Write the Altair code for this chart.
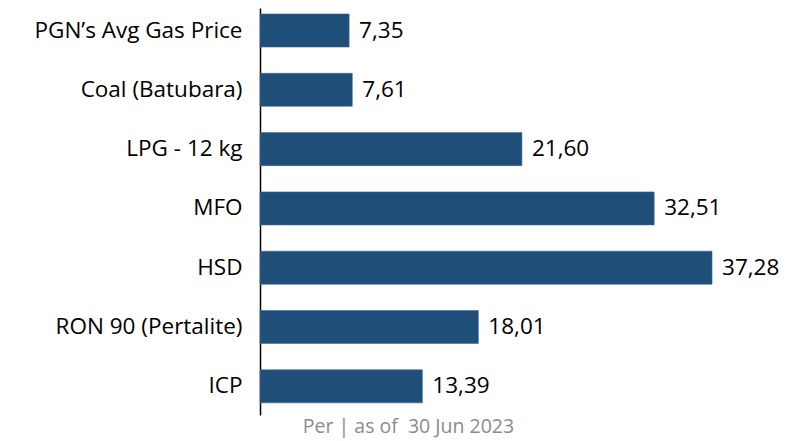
import altair as alt
import pandas as pd

categories = ["PGN’s Avg Gas Price", "Coal (Batubara)", "LPG - 12 kg ", "MFO", "HSD", "RON 90 (Pertalite)", "ICP"]
values = [7.35, 7.61, 21.60, 32.51, 37.28, 18.01, 13.39]
footer = "Per | as of \u00a030 Jun 2023"

df = pd.DataFrame({
    "cat": categories,
    "val": values,
    "lbl": [f"{v:.2f}".replace(".", ",") for v in values],
})

FONT = "Open Sans"

x = alt.X("val:Q", scale=alt.Scale(domain=[0, 40], nice=False),
          axis=alt.Axis(title=footer, labels=False, ticks=False, domain=False, grid=False,
                        titleFont=FONT, titleFontSize=19.5, titleFontWeight="normal",
                        titleColor="#8c8c8c", titleX=148, titleAnchor="middle",
                        titleAlign="center", titlePadding=2))
y = alt.Y("cat:N", sort=categories,
          scale=alt.Scale(paddingInner=0.443, paddingOuter=0.153, align=0.33),
          axis=alt.Axis(title=None, ticks=False, domain=True, domainColor="#000000",
                        domainWidth=1.5, labelFont=FONT, labelFontSize=22.5,
                        labelColor="#000000", labelPadding=18, labelLimit=300))

bars = alt.Chart(df).mark_bar(color="#1F4E79", stroke="#3a6a96", strokeWidth=0.6).encode(x=x, y=y)
text = alt.Chart(df).mark_text(align="left", baseline="middle", dx=10, font=FONT,
                               fontSize=22.5, color="#000000").encode(
    x="val:Q", y=alt.Y("cat:N", sort=categories), text="lbl:N")

chart = (bars + text).properties(
    width=485, height=407,
    autosize=alt.AutoSizeParams(type="none"),
    padding={"left": 252, "top": 0, "right": 41, "bottom": 26},
).configure_view(stroke=None)

chart.save("out.html", embed_options={"renderer": "svg", "actions": False})
